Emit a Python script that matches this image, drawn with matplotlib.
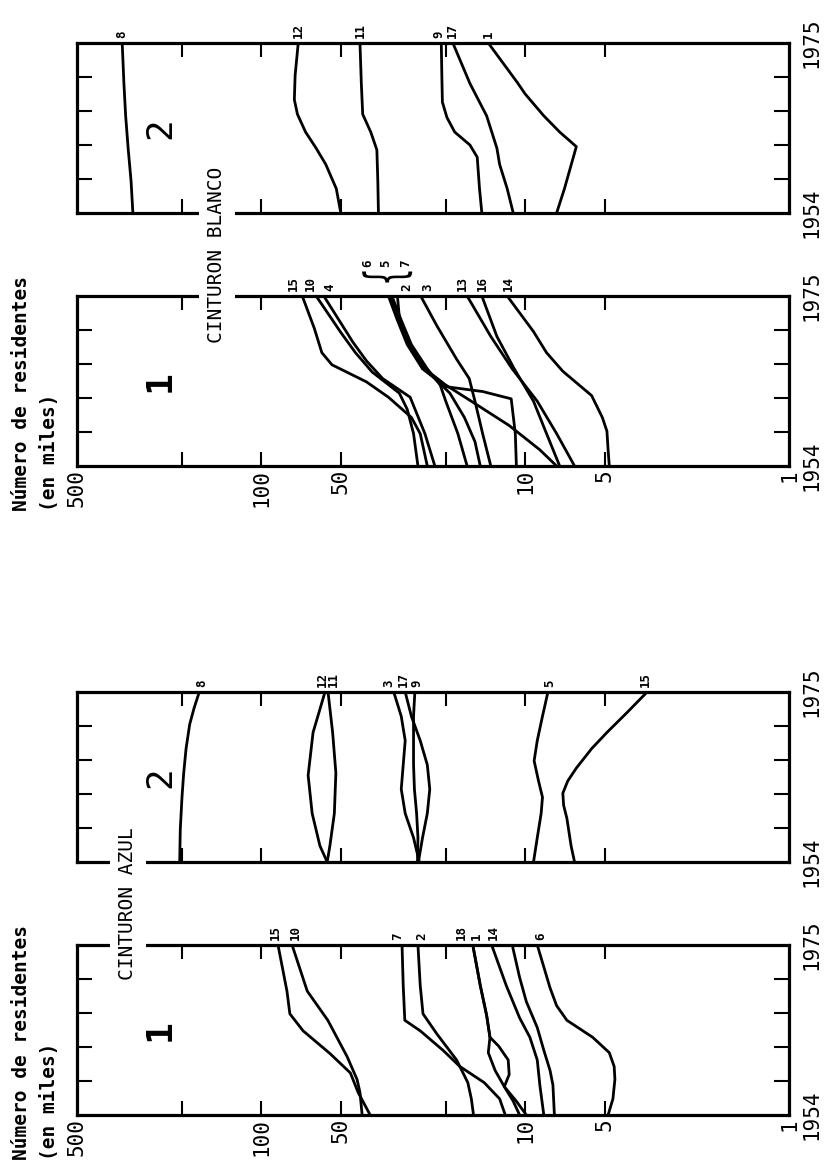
import matplotlib
matplotlib.use("Agg")
import matplotlib.pyplot as plt
from matplotlib.ticker import FixedLocator, NullLocator
from matplotlib.textpath import TextPath
from matplotlib.patches import PathPatch
from matplotlib.font_manager import FontProperties
from matplotlib.transforms import Affine2D, ScaledTranslation

plt.rcParams["font.family"] = ["DejaVu Sans Mono", "DejaVu Sans"]

# Residents (thousands) per municipality: label -> (years, values)
blanco_1 = {
    "15": ([1954, 1958, 1960, 1962.5, 1964.4, 1966.5, 1968, 1971, 1975],
           [23.5, 25, 27, 33, 40, 54, 59, 63, 70]),
    "10": ([1954, 1958, 1961, 1963, 1965.6, 1968, 1970.5, 1975],
           [25.5, 26.5, 28, 30, 38, 44, 50, 62]),
    "4": ([1954, 1958, 1962.5, 1964.8, 1967, 1969.3, 1975],
          [22, 24, 27.3, 34.7, 40, 45, 58]),
    "6": ([1954, 1958, 1962.3, 1963.2, 1963.8, 1966, 1969, 1972, 1975],
          [10.8, 10.9, 11.3, 14.5, 20, 24.5, 28, 30.5, 33]),
    "5": ([1954, 1956, 1959, 1962, 1964, 1966, 1969, 1972, 1975],
          [7.6, 8.8, 11.5, 16, 20, 24, 27.5, 30, 32.5]),
    "7": ([1954, 1958, 1962, 1964, 1966, 1969, 1972, 1975],
          [16.6, 18, 20, 21, 23.5, 27, 29.5, 32]),
    "2": ([1954, 1957, 1960, 1963, 1966, 1968.9, 1971.3, 1975],
          [14.8, 15.5, 17, 19.3, 24, 27.3, 29.8, 30.5]),
    "3": ([1954, 1958, 1962, 1964.8, 1967.2, 1971.3, 1975],
          [13.5, 14.5, 15.5, 16.3, 18.2, 21.6, 24.9]),
    "13": ([1954, 1958, 1962, 1966, 1970, 1975],
           [6.5, 7.6, 9, 11.2, 13.5, 16.6]),
    "16": ([1954, 1958, 1962, 1966, 1970, 1975],
           [7.4, 8.3, 9.3, 11, 12.8, 14.6]),
    "14": ([1954, 1956, 1958.3, 1960, 1962.7, 1965.7, 1968, 1970.6, 1975],
           [4.8, 4.85, 4.9, 5.1, 5.6, 7.2, 8.3, 9.3, 11.7]),
}

blanco_2 = {
    "8": ([1954, 1958, 1962, 1966, 1970, 1975],
          [307, 312, 320, 327, 332, 337]),
    "12": ([1954, 1957, 1960, 1962, 1964, 1966.2, 1968, 1971, 1975],
           [50, 52, 57, 62, 68, 73, 75, 74.5, 72.5]),
    "11": ([1954, 1958, 1961.8, 1964, 1966.2, 1970, 1975],
           [36, 36.2, 36.5, 38.5, 41.3, 41.8, 42.3]),
    "9": ([1954, 1957, 1960.9, 1962.4, 1964, 1965.8, 1967.7, 1971, 1975],
          [14.6, 14.9, 15.2, 16.2, 18.5, 19.8, 20.6, 20.7, 20.8]),
    "17": ([1954, 1957, 1960, 1962, 1966, 1970, 1975],
           [11.1, 11.7, 12.5, 12.8, 14.0, 16.2, 18.8]),
    "1": ([1954, 1957, 1962.2, 1964, 1966, 1968.7, 1970.1, 1975],
          [7.6, 7.1, 6.4, 7.4, 8.5, 10.0, 10.7, 13.8]),
}

azul_1 = {
    "15": ([1954, 1956.8, 1959.2, 1961.6, 1964.4, 1966.5, 1969.3, 1975],
           [38.7, 43, 46, 55, 69.5, 78, 80, 86.5]),
    "10": ([1954, 1956.8, 1958.4, 1961.2, 1965.7, 1969.3, 1975],
           [41.5, 42.3, 43.4, 47.3, 56, 67, 76.5]),
    "7": ([1954, 1956, 1958, 1960, 1962, 1964.4, 1965.7, 1970, 1975],
          [11.9, 12.5, 14.3, 17.7, 20.5, 25, 28.6, 29.0, 29.3]),
    "2": ([1954, 1956, 1958, 1960.8, 1964, 1966.5, 1970, 1975],
          [15.7, 16.0, 16.5, 18.2, 21.6, 24.4, 25.0, 25.5]),
    "18": ([1954, 1955.7, 1957.5, 1959.5, 1961.7, 1963.6, 1966.3, 1970, 1975],
           [10.5, 11.1, 12.0, 13.0, 13.8, 13.6, 14.0, 14.8, 15.8]),
    "1": ([1954, 1955.7, 1957.5, 1959, 1960.8, 1962.5, 1963.6, 1966.3, 1970, 1975],
          [9.9, 10.8, 12.0, 11.5, 11.6, 12.6, 13.6, 14.0, 14.8, 15.8]),
    "14": ([1954, 1957.7, 1960.8, 1963.6, 1966, 1970, 1975],
           [8.5, 8.8, 9.0, 9.6, 10.5, 11.8, 13.4]),
    "": ([1954, 1957.7, 1959.5, 1962, 1964.8, 1968, 1971, 1975],
         [7.75, 7.85, 8.05, 8.5, 9.0, 9.9, 10.5, 11.2]),
    "6": ([1954, 1956, 1958.4, 1960, 1961.7, 1963, 1963.6, 1965.7, 1967.5, 1969.7, 1975],
          [4.85, 4.65, 4.57, 4.6, 4.8, 5.3, 5.55, 6.95, 7.6, 8.05, 9.0]),
}

azul_2 = {
    "8": ([1954, 1958, 1962, 1965, 1968, 1971, 1973, 1975],
          [204, 203, 200, 197, 193, 187, 180, 172]),
    "12": ([1954, 1956, 1960, 1964.7, 1970, 1975],
           [56.3, 60, 64.2, 66.5, 63.7, 57.4]),
    "11": ([1954, 1956, 1960, 1965, 1970, 1975],
           [56.3, 55, 52.9, 52.2, 53.7, 55.9]),
    "3": ([1954, 1957, 1960, 1963, 1966, 1969, 1972, 1975],
          [25.2, 26.5, 28.5, 29.5, 29, 28.5, 29.5, 31.5]),
    "17": ([1954, 1957, 1960, 1963, 1966, 1969, 1972, 1975],
           [25.4, 24.5, 23.5, 23, 23.5, 25, 27, 28.5]),
    "9": ([1954, 1957, 1960, 1963, 1966, 1969, 1972, 1975],
          [25.6, 25.5, 25.8, 26.3, 26.5, 26.5, 26.5, 26.2]),
    "5": ([1954, 1957, 1960, 1962, 1964, 1966.5, 1969, 1972, 1975],
          [9.3, 9.0, 8.7, 8.6, 8.9, 9.25, 9.0, 8.6, 8.2]),
    "15": ([1954, 1956, 1959.4, 1961, 1962.5, 1964, 1965.6, 1968, 1970, 1972.5, 1975],
           [6.5, 6.7, 6.95, 7.15, 7.2, 6.9, 6.4, 5.6, 4.9, 4.1, 3.45]),
}

value_ticks = [200, 100, 50, 20, 10, 5]
value_labels = [500, 100, 50, 10, 5, 1]
year_ticks = [1958.2, 1962.4, 1966.6, 1970.8]

W, H = 834, 1169
fig = plt.figure(figsize=(W / 100, H / 100), dpi=100)


def add_panel(top, bottom, series, nudge, raised=(), values=False):
    ax = fig.add_axes([77 / W, 1 - bottom / H, (789 - 77) / W, (bottom - top) / H])
    ax.set_xscale("log")
    ax.set_xlim(500, 1)
    ax.set_ylim(1954, 1975)
    ax.xaxis.set_major_locator(FixedLocator(value_ticks))
    ax.xaxis.set_minor_locator(NullLocator())
    ax.yaxis.set_major_locator(FixedLocator(year_ticks))
    ax.yaxis.set_minor_locator(NullLocator())
    ax.tick_params(axis="x", direction="in", top=True, bottom=True, length=10,
                   width=1.5, labelbottom=False, labeltop=False)
    ax.tick_params(axis="y", direction="in", left=True, right=True, length=11,
                   width=1.5, labelleft=False, labelright=False)
    for s in ax.spines.values():
        s.set_linewidth(2.3)

    for name, (yrs, vals) in series.items():
        ax.plot(vals, yrs, color="black", lw=2.0, solid_joinstyle="round")
        if not name:
            continue
        dy = 29 if name in raised else 5
        ax.annotate(name, xy=(vals[-1], 1975), xytext=(nudge.get(name, 0), dy),
                    textcoords="offset pixels", rotation=90, ha="center",
                    va="bottom", fontsize=9, fontweight="bold",
                    annotation_clip=False)

    # years at the right of the frame
    for frac, yr in [(0, "1954"), (1, "1975")]:
        ax.annotate(yr, xy=(1, frac), xycoords="axes fraction", xytext=(13, 0),
                    textcoords="offset pixels", rotation=90, ha="left",
                    va="center", fontsize=15)

    if values:
        for v in value_labels:
            ax.annotate(str(v), xy=(v, 1954), xytext=(0, -3),
                        textcoords="offset pixels", rotation=90, ha="center",
                        va="top", fontsize=15, annotation_clip=False)
    return ax


def add_chart(dy, p1, p2, n1, n2, title, title_x, raised=()):
    add_panel(43 + dy, 213 + dy, p2, n2)
    ax1 = add_panel(296 + dy, 466 + dy, p1, n1, raised=raised, values=True)

    fig.text(title_x / W, 1 - (255 + dy) / H, title, rotation=90, ha="center",
             va="center", fontsize=14,
             bbox=dict(facecolor="white", edgecolor="none", pad=6))
    fig.text(22 / W, 1 - (511 + dy) / H, "Número de residentes", rotation=90,
             ha="center", va="bottom", fontsize=14, fontweight="bold")
    fig.text(49 / W, 1 - (511 + dy) / H, "(en miles)", rotation=90,
             ha="center", va="bottom", fontsize=14, fontweight="bold")
    fig.text(160 / W, 1 - (128 + dy) / H, "2", rotation=90, ha="center",
             va="center", fontsize=26)
    fig.text(160 / W, 1 - (381 + dy) / H, "1", rotation=90, ha="center",
             va="center", fontsize=26, fontweight="bold")
    return ax1


# top chart: CINTURON BLANCO
ax_b1 = add_chart(
    0, blanco_1, blanco_2,
    {"15": -9, "10": -6, "4": 6, "6": -21, "5": -4, "7": 14, "2": 9, "3": 7,
     "13": -5, "16": 1, "14": 1},
    {"9": -2},
    "CINTURON BLANCO", 217, raised=("6", "5", "7"))

# flat curly brace grouping labels 6, 5, 7 over the bundle of lines
brace = TextPath((0, 0), "{", size=10, prop=FontProperties(family="DejaVu Sans"))
ext = brace.get_extents()
brace_tr = (Affine2D()
            .translate(-(ext.x0 + ext.x1) / 2, -(ext.y0 + ext.y1) / 2)
            .scale(11 / ext.width, 50 / ext.height)
            .rotate_deg(90)
            .translate(-3, 19)
            + ScaledTranslation(32.5, 1975, ax_b1.transData))
ax_b1.add_patch(PathPatch(brace, transform=brace_tr, facecolor="black",
                          edgecolor="none", clip_on=False))

# bottom chart: CINTURON AZUL
add_chart(
    649, azul_1, azul_2,
    {"15": -3, "10": 3, "7": -4, "2": 4, "18": -11, "1": 4, "14": 2, "6": 3},
    {"8": 2, "12": -3, "11": 5, "3": -5, "17": -2, "9": 2, "5": 2, "15": -2},
    "CINTURON AZUL", 128)

fig.savefig("out.png", dpi=100)
